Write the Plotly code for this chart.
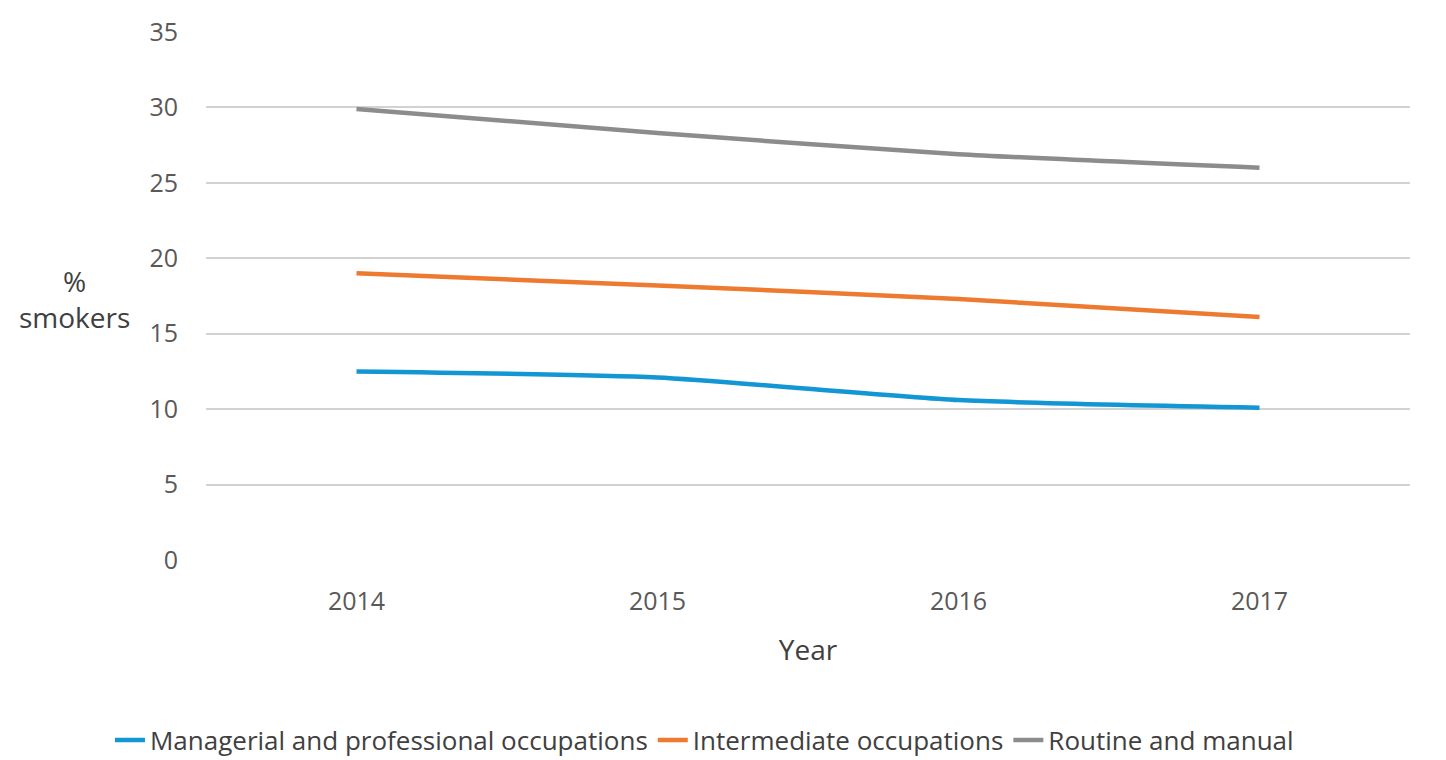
import plotly.graph_objects as go

years = ["2014", "2015", "2016", "2017"]
managerial = [12.5, 12.1, 10.6, 10.1]
intermediate = [19.0, 18.2, 17.3, 16.1]
routine = [29.9, 28.3, 26.9, 26.0]

series_names = ["Managerial and professional occupations", "Intermediate occupations", "Routine and manual"]
series_colors = ["#1296d4", "#ee7a30", "#8c8c8c"]

fig = go.Figure()
for name, vals, col in zip(series_names, [managerial, intermediate, routine], series_colors):
    fig.add_trace(go.Scatter(x=years, y=vals, name=name, mode="lines",
                             line=dict(color=col, width=4.5, shape="spline", smoothing=0.6)))

font_fam = "Open Sans, Liberation Sans, sans-serif"
fig.update_layout(
    width=1446, height=760,
    margin=dict(l=198, r=44, t=24, b=208, autoexpand=False),
    plot_bgcolor="white", paper_bgcolor="white",
    font=dict(family=font_fam, size=25, color="#595959"),
    showlegend=True,
    legend=dict(orientation="h", x=0.414, xanchor="center", y=-0.341, yanchor="middle",
                font=dict(size=26, color="#404040"), tracegroupgap=0),
    xaxis=dict(type="category", range=[-0.5, 3.5], showgrid=False, zeroline=False,
               showline=False, ticks="", ticklabelstandoff=24, automargin=False,
               tickfont=dict(size=25),
               title=dict(text="Year", standoff=24, font=dict(size=28, color="#404040"))),
    yaxis=dict(range=[0, 35], dtick=5, showgrid=True, gridcolor="#d2d2d2", gridwidth=2,
               zeroline=False, showline=False, ticks="", ticklabelstandoff=27, automargin=False,
               tickfont=dict(size=25)),
)
fig.add_annotation(text="%<br>smokers", xref="paper", yref="paper", x=-0.109, y=0.494,
                   xanchor="center", yanchor="middle", showarrow=False,
                   font=dict(size=28, color="#404040"), align="center")
fig.write_html("out.html")
